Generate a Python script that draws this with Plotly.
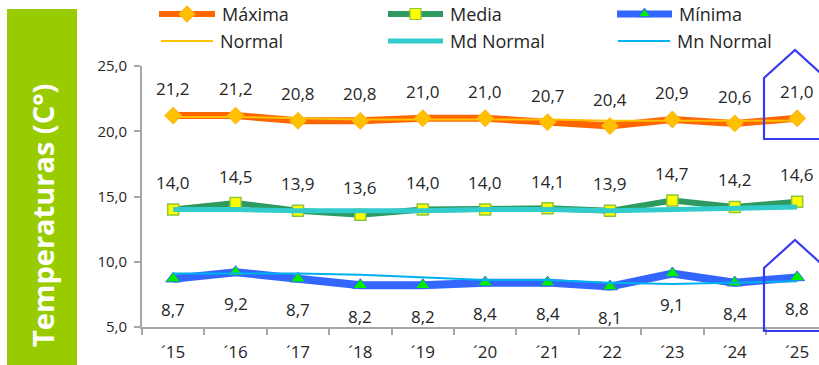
import plotly.graph_objects as go

# ---- data ----
years = ["´15", "´16", "´17", "´18", "´19", "´20", "´21", "´22", "´23", "´24", "´25"]
maxima = [21.2, 21.2, 20.8, 20.8, 21.0, 21.0, 20.7, 20.4, 20.9, 20.6, 21.0]
media = [14.0, 14.5, 13.9, 13.6, 14.0, 14.0, 14.1, 13.9, 14.7, 14.2, 14.6]
minima = [8.7, 9.2, 8.7, 8.2, 8.2, 8.4, 8.4, 8.1, 9.1, 8.4, 8.8]
normal = [21.1, 21.1, 21.0, 20.9, 20.9, 20.9, 20.9, 20.8, 20.8, 20.8, 20.8]
md_normal = [14.0, 14.0, 13.9, 13.9, 13.9, 14.0, 14.0, 13.9, 14.0, 14.1, 14.2]
mn_normal = [9.1, 9.1, 9.1, 9.0, 8.8, 8.6, 8.6, 8.4, 8.3, 8.4, 8.5]
y_ticks = [5, 10, 15, 20, 25]

W, H = 819, 365
FONT = "Open Sans"
TXT = "#262626"
AXIS_GREY = "#a6a6a6"

C_MAX, C_MAX_MK = "#ff6600", "#ffc000"
C_MED, C_MED_MK, C_MED_MKL = "#2e9a5f", "#ffff00", "#8cc63f"
C_MIN, C_MIN_MK = "#3366ff", "#00ee00"
C_NOR, C_MDN, C_MNN = "#ffc000", "#33cccc", "#00b0f0"

# plot area in pixels
PL, PR, PT, PB = 142, 819, 66, 327

fig = go.Figure()

# main series (later traces drawn on top)
fig.add_trace(go.Scatter(x=years, y=maxima, mode="lines+markers", name="Máxima",
                         line=dict(color=C_MAX, width=7),
                         marker=dict(symbol="diamond", size=13, color=C_MAX_MK,
                                     line=dict(color="#ffb020", width=1))))
fig.add_trace(go.Scatter(x=years, y=media, mode="lines+markers", name="Media",
                         line=dict(color=C_MED, width=6),
                         marker=dict(symbol="square", size=11, color=C_MED_MK,
                                     line=dict(color=C_MED_MKL, width=1.5))))
fig.add_trace(go.Scatter(x=years, y=minima, mode="lines+markers", name="Mínima",
                         line=dict(color=C_MIN, width=8),
                         marker=dict(symbol="triangle-up", size=13, color=C_MIN_MK,
                                     line=dict(color=C_MIN, width=1))))
fig.add_trace(go.Scatter(x=years, y=normal, mode="lines", name="Normal",
                         line=dict(color=C_NOR, width=2)))
fig.add_trace(go.Scatter(x=years, y=md_normal, mode="lines", name="Md Normal",
                         line=dict(color=C_MDN, width=5)))
fig.add_trace(go.Scatter(x=years, y=mn_normal, mode="lines", name="Mn Normal",
                         line=dict(color=C_MNN, width=2)))

annotations = []


def fmt(v):
    return f"{v:.1f}".replace(".", ",")


# value labels
for series, shift in ((maxima, 27), (media, 27), (minima, -31)):
    for x, v in zip(years, series):
        annotations.append(dict(x=x, y=v, xref="x", yref="y", text=fmt(v),
                                showarrow=False, yshift=shift, yanchor="middle",
                                font=dict(family=FONT, size=17, color=TXT)))

# legend drawn on a pixel-coordinate overlay (x2/y2)
legend_items = [
    # name, x0, x1, y, color, width, marker symbol, marker fill, marker outline, size
    ("Máxima", 159, 215, 14, C_MAX, 6, "diamond", C_MAX_MK, "#ffb020", 12),
    ("Media", 388, 443, 14, C_MED, 6, "square", C_MED_MK, C_MED_MKL, 11),
    ("Mínima", 617, 672, 14, C_MIN, 7, "triangle-up", C_MIN_MK, C_MIN, 11),
    ("Normal", 161, 213, 41, C_NOR, 2, None, None, None, 0),
    ("Md Normal", 388, 443, 41, C_MDN, 5, None, None, None, 0),
    ("Mn Normal", 618, 670, 41, C_MNN, 2, None, None, None, 0),
]
for name, x0, x1, yy, col, w, sym, fill, outl, sz in legend_items:
    fig.add_trace(go.Scatter(x=[x0, x1], y=[yy, yy], mode="lines", xaxis="x2", yaxis="y2",
                             line=dict(color=col, width=w), showlegend=False,
                             hoverinfo="skip"))
    if sym:
        fig.add_trace(go.Scatter(x=[(x0 + x1) / 2], y=[yy], mode="markers",
                                 xaxis="x2", yaxis="y2", showlegend=False,
                                 hoverinfo="skip",
                                 marker=dict(symbol=sym, size=sz, color=fill,
                                             line=dict(color=outl, width=1.2))))
    annotations.append(dict(x=x1 + 5, y=yy, xref="x2", yref="y2", text=name,
                            showarrow=False, xanchor="left", yanchor="middle",
                            font=dict(family=FONT, size=18, color=TXT)))

# vertical axis title on the green band
annotations.append(dict(x=42, y=216, xref="x2", yref="y2", text="<b>Temperaturas (C°)</b>",
                        showarrow=False, textangle=-90, xanchor="center", yanchor="middle",
                        font=dict(family=FONT, size=29, color="white")))

shapes = [
    dict(type="rect", xref="x2", yref="y2", x0=7, x1=77, y0=9, y1=366,
         fillcolor="#99cc00", line=dict(width=0), layer="below"),
    # highlight outlines around the latest year
    dict(type="path", xref="x2", yref="y2",
         path="M 764,139 L 764,78 L 795,50 L 826,78 L 826,139 Z",
         line=dict(color="#3a3af0", width=2.2)),
    dict(type="path", xref="x2", yref="y2",
         path="M 764,331 L 764,268 L 795,240 L 826,268 L 826,331 Z",
         line=dict(color="#3a3af0", width=2.2)),
]

fig.update_layout(
    width=W, height=H,
    margin=dict(l=0, r=0, t=0, b=0, pad=0, autoexpand=False),
    paper_bgcolor="white", plot_bgcolor="rgba(0,0,0,0)",
    separators=",.",
    showlegend=False,
    font=dict(family=FONT, color=TXT),
    xaxis=dict(type="category", domain=[PL / W, 1], range=[-0.5, 10.35],
               automargin=False,
               showgrid=False, showline=True, linecolor=AXIS_GREY, linewidth=2,
               ticks="outside", tickson="boundaries", ticklen=6, tickwidth=2,
               tickcolor=AXIS_GREY, ticklabelstandoff=9,
               tickfont=dict(family=FONT, size=17, color=TXT), zeroline=False),
    yaxis=dict(domain=[(H - PB) / H, (H - PT) / H], range=[5, 25],
               automargin=False,
               tickvals=y_ticks, tickformat=".1f",
               showgrid=False, showline=True, linecolor=AXIS_GREY, linewidth=2,
               ticks="outside", ticklen=6, tickwidth=2, tickcolor=AXIS_GREY,
               ticklabelstandoff=4,
               tickfont=dict(family=FONT, size=15, color=TXT), zeroline=False),
    xaxis2=dict(domain=[0, 1], range=[0, W], visible=False, anchor="y2",
                automargin=False, fixedrange=True),
    yaxis2=dict(domain=[0, 1], range=[H, 0], visible=False, anchor="x2",
                automargin=False, fixedrange=True),
    shapes=shapes,
    annotations=annotations,
)

fig.write_html("out.html")
